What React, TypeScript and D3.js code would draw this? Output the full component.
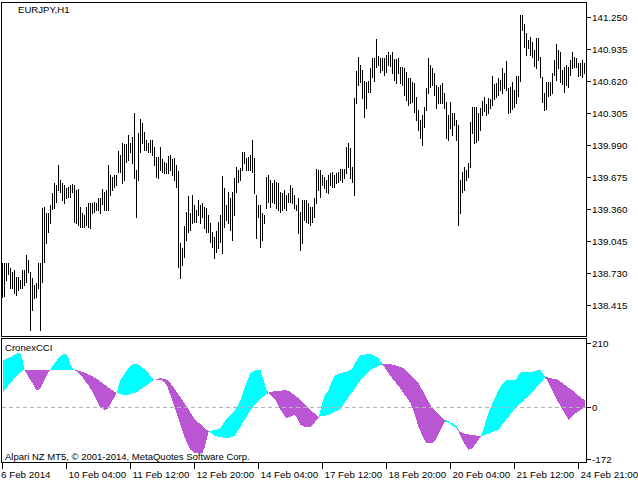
import React from 'react';
import * as d3 from 'd3';

const highs = [
138.828,138.828,138.828,138.828,138.779,138.739,138.759,138.690,138.690,138.661,
138.759,138.759,138.907,138.857,138.739,138.680,138.612,138.631,138.828,138.828,
139.369,139.379,139.320,139.320,139.398,139.516,139.615,139.595,139.792,139.644,
139.615,139.595,139.565,139.575,139.595,139.605,139.595,139.546,139.556,139.379,
139.320,139.300,139.379,139.418,139.418,139.418,139.428,139.418,139.467,139.467,
139.556,139.526,139.546,139.792,139.693,139.674,139.693,139.693,139.929,139.890,
140.008,139.998,139.998,140.087,140.008,140.067,140.303,139.742,140.106,140.244,
140.205,140.116,140.037,140.008,140.037,140.037,139.969,139.870,139.870,139.969,
139.851,139.821,139.811,139.880,139.890,139.851,139.860,139.792,139.733,139.025,
138.975,139.192,139.329,139.487,139.320,139.497,139.398,139.349,139.447,139.398,
139.418,139.379,139.369,139.300,139.221,139.133,139.084,139.143,139.231,139.300,
139.683,139.565,139.398,139.526,139.467,139.526,139.664,139.772,139.742,139.762,
139.919,139.919,139.860,139.870,139.890,140.037,139.860,139.497,139.398,139.398,
139.320,139.300,139.674,139.693,139.644,139.615,139.644,139.624,139.615,139.526,
139.516,139.546,139.497,139.516,139.595,139.565,139.497,139.398,139.467,139.329,
139.447,139.447,139.447,139.418,139.379,139.379,139.467,139.752,139.742,139.742,
139.693,139.674,139.644,139.693,139.713,139.723,139.693,139.713,139.723,139.752,
139.752,139.752,139.969,140.008,139.959,139.772,140.450,140.716,140.854,140.775,
140.726,140.618,140.608,140.618,140.745,140.844,140.844,141.031,140.863,140.844,
140.844,140.844,140.873,140.903,140.873,140.903,140.834,140.834,140.844,140.755,
140.755,140.745,140.706,140.647,140.647,140.608,140.598,140.460,140.332,140.234,
140.283,140.362,140.549,140.844,140.775,140.745,140.696,140.578,140.559,140.578,
140.598,140.500,140.411,140.283,140.411,140.303,140.303,140.234,140.185,139.644,
139.723,139.772,139.742,139.811,140.214,140.362,140.362,140.362,140.303,140.352,
140.421,140.460,140.391,140.450,140.441,140.667,140.588,140.598,140.647,140.627,
140.745,140.696,140.814,140.549,140.559,140.608,140.529,140.667,140.667,141.267,
141.267,141.178,141.090,141.021,141.050,141.001,140.922,141.040,141.040,140.854,
140.657,140.500,140.608,140.608,140.608,140.696,140.824,140.981,140.922,140.903,
140.726,140.755,140.775,140.755,140.824,140.903,140.854,140.844,140.795,140.795,
140.824,140.795
];

const lows = [
138.494,138.503,138.661,138.720,138.582,138.582,138.533,138.513,138.562,138.582,
138.582,138.612,138.641,138.739,138.169,138.366,138.484,138.494,138.582,138.169,
138.641,138.838,139.025,139.133,139.221,139.359,139.369,139.428,139.546,139.526,
139.447,139.418,139.467,139.477,139.477,139.526,139.231,139.221,139.202,139.182,
139.182,139.182,139.202,139.182,139.172,139.320,139.329,139.349,139.349,139.320,
139.408,139.349,139.349,139.349,139.497,139.546,139.575,139.595,139.723,139.723,
139.615,139.644,139.821,139.841,139.919,139.811,139.664,139.280,139.644,139.919,
140.008,139.939,139.939,139.919,139.919,139.890,139.792,139.674,139.664,139.742,
139.723,139.713,139.713,139.713,139.742,139.693,139.644,139.575,138.789,138.680,
138.808,138.887,139.054,139.133,139.152,139.221,139.231,139.231,139.300,139.221,
139.280,139.172,139.133,139.133,139.034,138.985,138.877,138.936,138.975,139.034,
138.926,139.182,139.251,139.221,139.152,139.054,139.300,139.526,139.624,139.644,
139.742,139.811,139.742,139.742,139.742,139.723,139.516,139.074,139.280,138.985,
139.054,139.221,139.369,139.428,139.379,139.428,139.418,139.369,139.349,139.329,
139.349,139.369,139.349,139.428,139.428,139.418,139.369,139.349,139.123,138.956,
139.025,139.251,139.231,139.221,139.202,139.231,139.280,139.418,139.546,139.477,
139.595,139.565,139.526,139.516,139.595,139.575,139.575,139.615,139.624,139.644,
139.624,139.664,139.713,139.772,139.664,139.624,139.497,140.401,140.578,140.608,
140.450,140.264,140.352,140.509,140.509,140.657,140.618,140.755,140.775,140.706,
140.726,140.677,140.706,140.775,140.765,140.696,140.627,140.598,140.696,140.598,
140.578,140.480,140.431,140.382,140.401,140.411,140.313,140.234,140.136,140.057,
139.988,140.165,140.332,140.500,140.559,140.578,140.480,140.352,140.401,140.401,
140.401,140.352,140.057,140.037,140.155,140.087,140.185,140.037,139.202,139.320,
139.526,139.546,139.644,139.674,139.772,140.106,140.008,140.018,140.037,140.136,
140.283,140.323,140.283,140.303,140.352,140.382,140.441,140.460,140.480,140.529,
140.500,140.549,140.529,140.303,140.313,140.342,140.362,140.401,140.470,140.618,
141.119,140.952,140.873,140.942,140.873,140.854,140.765,140.745,140.824,140.657,
140.411,140.332,140.342,140.470,140.480,140.500,140.677,140.627,140.745,140.608,
140.588,140.509,140.578,140.559,140.677,140.745,140.755,140.755,140.667,140.677,
140.657,140.696
];

const cciFast = [
152,156,159,162,165,168,172,175,178,175,155,122,112,99,89,79,66,56,56,63,
76,89,102,116,125,135,145,152,162,168,172,175,172,162,139,129,122,119,112,106,
99,89,79,73,60,50,37,23,10,0,-3,-10,-8,-3,10,23,33,46,69,89,
99,109,119,129,135,139,142,142,139,135,129,125,119,112,102,96,89,89,89,89,
86,81,73,56,40,20,0,-19,-39,-59,-79,-98,-115,-128,-141,-145,-150,-151,-151,-151,
-150,-135,-108,-82,-79,-77,-75,-75,-72,-69,-59,-49,-39,-33,-26,-19,-13,-3,10,23,
43,63,79,96,112,116,119,122,122,122,99,79,56,46,40,33,27,17,4,-10,
-19,-29,-36,-34,-33,-29,-26,-33,-46,-59,-62,-65,-65,-65,-65,-59,-52,-42,-36,-10,
17,37,46,56,73,89,102,106,109,112,112,116,117,119,122,129,142,153,163,172,
172,173,175,175,175,172,168,165,162,152,140,132,122,112,102,94,86,77,69,61,
51,41,32,22,12,-3,-23,-44,-66,-80,-95,-110,-118,-118,-118,-118,-113,-102,-89,-75,
-62,-49,-44,-47,-51,-54,-59,-62,-79,-95,-108,-120,-131,-141,-138,-135,-126,-118,-108,-98,
-82,-61,-39,-19,-3,12,27,41,56,66,76,84,89,89,89,89,89,94,106,112,
116,116,116,116,116,117,119,120,122,122,112,102,93,79,66,53,40,27,13,4,
-10,-19,-31,-42,-36,-29,-23,-18,-13,-10,-6,-3
];

const cciSlow = [
46,55,63,71,79,87,95,102,108,114,119,122,122,121,122,123,122,122,121,122,
122,123,122,122,121,122,122,123,122,122,121,122,122,123,122,122,121,122,120,118,
116,113,111,107,104,101,97,94,89,84,79,74,69,64,60,55,51,46,45,43,
41,40,40,41,43,45,46,48,53,58,63,66,71,76,81,86,89,92,93,96,
94,93,90,86,78,69,61,51,41,32,22,12,2,-8,-18,-28,-38,-46,-51,-57,
-63,-69,-74,-79,-84,-89,-94,-96,-97,-98,-100,-101,-102,-102,-100,-99,-94,-84,-75,-66,
-54,-43,-32,-21,-10,-2,6,14,20,26,32,37,43,47,50,51,52,53,54,54,
55,56,55,53,50,44,39,34,29,23,17,10,4,-3,-10,-15,-21,-27,-33,-31,
-30,-29,-27,-26,-23,-19,-16,-13,-10,-5,5,14,23,33,43,51,60,70,79,89,
96,102,109,116,122,126,130,133,136,140,142,142,142,142,142,140,138,136,134,132,
130,125,119,112,106,99,93,86,79,67,55,43,31,18,6,-3,-10,-16,-23,-29,
-36,-42,-48,-52,-56,-61,-65,-69,-77,-82,-85,-88,-89,-90,-91,-92,-93,-94,-94,-95,
-94,-92,-90,-88,-85,-82,-80,-78,-75,-67,-57,-48,-38,-32,-24,-15,-7,0,6,12,
18,25,31,37,43,50,57,65,72,80,87,95,99,97,96,94,93,91,89,84,
79,74,69,64,60,55,50,44,38,33,28,23
];

const priceTicks = [141.25, 140.935, 140.62, 140.305, 139.99, 139.675, 139.36, 139.045, 138.73, 138.415];
const cciTicks = [210, 0, -172];
const timeTickBars = [0, 32, 64, 96, 128, 160, 192, 224, 256, 288];
const timeTickLabels = ['6 Feb 2014', '10 Feb 04:00', '11 Feb 12:00', '12 Feb 20:00', '14 Feb 04:00', '17 Feb 12:00', '18 Feb 20:00', '20 Feb 04:00', '21 Feb 12:00', '24 Feb 21:00'];
const symbolLabel = 'EURJPY,H1';
const indicatorLabel = 'CronexCCI';
const copyrightLabel = 'Alpari NZ MT5, © 2001-2014, MetaQuotes Software Corp.';

const FONT = "'Liberation Sans', Arial, sans-serif";

export default function App() {
  const W = 638, H = 485;
  const n = highs.length;
  const x = d3.scaleLinear().domain([0, n - 1]).range([2, 2 + 2 * (n - 1)]);
  const yP = d3.scaleLinear().domain([138.415, 141.25]).range([305, 16.7]);
  const yC = d3.scaleLinear().domain([-172, 210]).range([459.3, 343.3]);

  const idx = d3.range(n);
  const aquaArea = d3.area<number>()
    .x(i => x(i) + 0.5)
    .y0(i => yC(cciSlow[i]))
    .y1(i => yC(Math.max(cciFast[i], cciSlow[i])));
  const purpleArea = d3.area<number>()
    .x(i => x(i) + 0.5)
    .y0(i => yC(cciSlow[i]))
    .y1(i => yC(Math.min(cciFast[i], cciSlow[i])));

  const frameL = 1.5, frameR = 586.5;

  return (
    <svg width={W} height={H} style={{ position: 'absolute', left: 0, top: 0, background: '#fff' }}
      fontFamily={FONT} fontSize={10}>
      <rect x={0} y={0} width={W} height={H} fill="#fff" />
      <g stroke="#000" strokeWidth={1} shapeRendering="crispEdges">
        {idx.map(i => (
          <line key={i} x1={x(i) + 0.5} x2={x(i) + 0.5}
            y1={Math.round(yP(highs[i]))} y2={Math.round(yP(lows[i])) + 1} />
        ))}
      </g>
      <rect x={frameL} y={2.5} width={frameR - frameL} height={334} fill="none" stroke="#000" shapeRendering="crispEdges" />
      <text x={18} y={13} fontSize={9.6}>{symbolLabel}</text>
      <g shapeRendering="crispEdges">
        {priceTicks.map(v => {
          const yy = Math.round(yP(v)) + 0.5;
          return (
            <g key={v}>
              <line x1={587} x2={591} y1={yy} y2={yy} stroke="#000" />
              <text x={592} y={yy + 3.5} fontSize={9.8}>{v.toFixed(3)}</text>
            </g>
          );
        })}
      </g>
      <path d={aquaArea(idx) || ''} fill="#00FFFF" shapeRendering="crispEdges" />
      <path d={purpleArea(idx) || ''} fill="#BA55D3" shapeRendering="crispEdges" />
      <line x1={2} x2={586} y1={Math.round(yC(0)) + 0.5} y2={Math.round(yC(0)) + 0.5}
        stroke="#B4B4B4" strokeDasharray="4,3" shapeRendering="crispEdges" />
      <rect x={frameL} y={338.5} width={frameR - frameL} height={124} fill="none" stroke="#000" shapeRendering="crispEdges" />
      <text x={5} y={351} fontSize={9.6}>{indicatorLabel}</text>
      <text x={5} y={460} fontSize={9.5}>{copyrightLabel}</text>
      <g shapeRendering="crispEdges">
        {cciTicks.map(v => {
          const yy = Math.round(yC(v)) + 0.5;
          return (
            <g key={v}>
              <line x1={587} x2={591} y1={yy} y2={yy} stroke="#000" />
              <text x={592} y={yy + 3.5} fontSize={9.8}>{String(v)}</text>
            </g>
          );
        })}
      </g>
      <g shapeRendering="crispEdges">
        {timeTickBars.map((b, k) => {
          const xx = x(b) + 0.5;
          return (
            <g key={b}>
              <line x1={xx} x2={xx} y1={463} y2={469} stroke="#000" />
              <text x={k === 0 ? 1 : xx + 2} y={478} fontSize={9.8}>{timeTickLabels[k]}</text>
            </g>
          );
        })}
      </g>
    </svg>
  );
}
